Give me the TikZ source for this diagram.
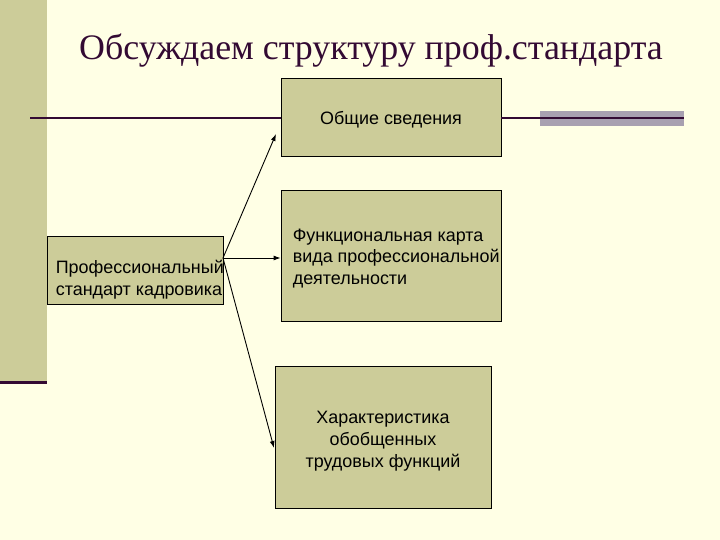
\documentclass[tikz,border=0pt]{standalone}
\usepackage{fontspec}
\setmainfont{Liberation Serif}
\newfontfamily\boxfont{Liberation Sans}
\usetikzlibrary{arrows.meta,positioning}
\definecolor{scream}{HTML}{FFFFE5}
\definecolor{solive}{HTML}{CCCC99}
\definecolor{splum}{HTML}{330A33}
\definecolor{sgrey}{HTML}{A8A0B0}
\newcommand{\lowr}[1]{\rule{0pt}{#1}}
\begin{document}
\begin{tikzpicture}[x=1bp,y=-1bp,every node/.style={font=\boxfont\fontsize{18}{22}\selectfont,inner sep=0pt},box/.style={draw=black,line width=0.8bp,fill=solive},txt/.style={anchor=west,align=left},arr/.style={-{Latex[length=7bp,width=5bp]},line width=0.9bp}]
\fill[scream] (0,0) rectangle (720,540);
\useasboundingbox (0,0) rectangle (720,540);
% left band
\fill[solive] (0,0) rectangle (47,381);
\fill[splum] (0,381) rectangle (47,384);
\node[font=\fontsize{36}{40}\selectfont,text=splum] (title) at (371,51) {Обсуждаем структуру проф.стандарта};
% boxes
\node[box,minimum width=220bp,minimum height=78bp] (gen) at (391,117) {\lowr{19bp}Общие сведения};
\node[box,minimum width=220bp,minimum height=131bp] (func) at (391,255.5) {};
\node[txt] (funct) at ([xshift=12bp,yshift=-3bp]func.west) {Функциональная карта\\вида профессиональной\\деятельности};
\node[box,minimum width=176bp,minimum height=68bp] (prof) at (135,270) {};
\node[txt] (proft) at ([xshift=9bp,yshift=-10bp]prof.west) {Профессиональный\\стандарт кадровика};
\node[box,minimum width=216bp,minimum height=142bp,align=center] (char) at (383,437) {\lowr{21bp}Характеристика\\обобщенных\\трудовых функций};
% rule across the slide
\fill[sgrey] (540,111) rectangle (684,126);
\coordinate (rl) at (30,118);
\coordinate (rr) at (684,118);
\draw[line width=1.6bp,splum] (rl) -- (rl -| gen.west);
\draw[line width=1.6bp,splum] (rr -| gen.east) -- (rr);
% arrows
\coordinate (src) at (223,258);
\coordinate (t1) at (276,134);
\coordinate (t3) at (274,448);
\draw[arr] (src) -- (t1);
\draw[arr] (src) -- (src -| func.west);
\draw[arr] (src) -- (t3);
\end{tikzpicture}
\end{document}
